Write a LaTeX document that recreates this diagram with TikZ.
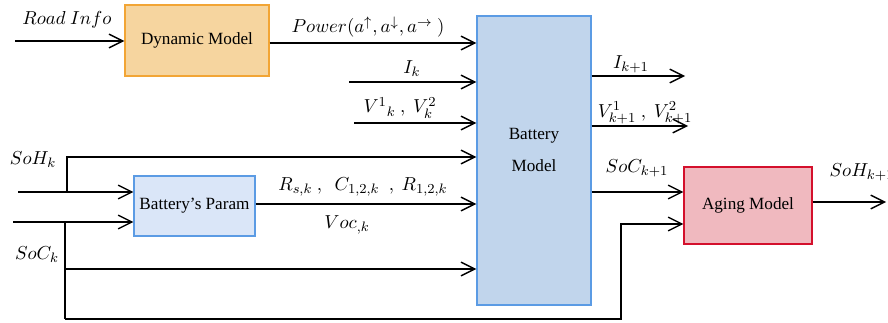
\documentclass[tikz,border=0pt]{standalone}
\usepackage{fontspec}
\setmainfont{Liberation Serif}
\usepackage{amsmath,amssymb}
\usepackage{xcolor}
\usetikzlibrary{positioning,arrows.meta}

\definecolor{dynfill}{HTML}{F6D59F}
\definecolor{dynline}{HTML}{F2A535}
\definecolor{batfill}{HTML}{C1D5EC}
\definecolor{batline}{HTML}{5B9BE4}
\definecolor{parfill}{HTML}{DAE6F8}
\definecolor{agefill}{HTML}{F0B9BF}
\definecolor{ageline}{HTML}{D4102C}

\begin{document}
\begin{tikzpicture}[x=0.583pt, y=-0.583pt,
    blk/.style={draw, thick, align=center, inner sep=0pt},
    dynbox/.style={blk, fill=dynfill, draw=dynline, minimum width=84pt, minimum height=41.4pt},
    batbox/.style={blk, fill=batfill, draw=batline, minimum width=66.5pt, minimum height=168.5pt},
    parbox/.style={blk, fill=parfill, draw=batline, minimum width=70.5pt, minimum height=35pt},
    agebox/.style={blk, fill=agefill, draw=ageline, minimum width=74.6pt, minimum height=44.9pt},
    arr/.style={-{Straight Barb[length=8pt, width=8pt]}, thick},
    ln/.style={thick},
    lbl/.style={inner sep=1pt, font=\fontsize{10.8}{13}\selectfont}
  ]
  \useasboundingbox (0,0) rectangle (888,323);

  % blocks
  \node[dynbox] (dyn) at (197,40.5)  {Dynamic Model};
  \node[batbox] (bat) at (534,160.5) {};
  \node[align=center] (batlbl) at (534,150) {Battery\\[7pt]Model};
  \node[parbox] (par) at (194.5,206) {Battery's Param};
  \node[agebox] (age) at (748,205.5) {Aging Model};

  % rows and free ends
  \coordinate (road)  at (15,41);
  \coordinate (rpow)  at (0,43);
  \coordinate (ik)    at (349,82);
  \coordinate (vk)    at (354,123);
  \coordinate (rsoh)  at (0,157);
  \coordinate (rpar)  at (0,204);
  \coordinate (rsocb) at (0,269);
  \coordinate (sohin) at (18,192);
  \coordinate (sohsp) at (67,192);
  \coordinate (socin) at (13,222);
  \coordinate (socsp) at (65,222);
  \coordinate (socbt) at (65,319);
  \coordinate (socup) at (621,319);
  \coordinate (rage)  at (0,224);
  \coordinate (iout)  at (685,76);
  \coordinate (vout)  at (688,126);
  \coordinate (rsoc)  at (0,192);
  \coordinate (hout)  at (886,202);

  % inputs
  \draw[arr] (road) -- (road -| dyn.west);
  \draw[arr] (dyn.east |- rpow) -- (bat.west |- rpow);
  \draw[arr] (ik) -- (ik -| bat.west);
  \draw[arr] (vk) -- (vk -| bat.west);
  \draw[arr] (sohin) -- (sohin -| par.west);
  \draw[arr] (sohsp) -- (sohsp |- rsoh) -- (bat.west |- rsoh);
  \draw[arr] (socin) -- (socin -| par.west);
  \draw[ln]  (socsp) -- (socbt);
  \draw[arr] (socsp |- rsocb) -- (bat.west |- rsocb);
  \draw[arr] (socbt) -- (socup) |- (age.west |- rage);
  \draw[arr] (par.east |- rpar) -- (bat.west |- rpar);

  % outputs
  \draw[arr] (iout -| bat.east) -- (iout);
  \draw[arr] (vout -| bat.east) -- (vout);
  \draw[arr] (bat.east |- rsoc) -- (age.west |- rsoc);
  \draw[arr] (age.east |- hout) -- (hout);

  % labels
  \node[lbl] (lroad) at (67,20)   {$Road\ Info$};
  \node[lbl] (lpow)  at (368,27)  {$Power(a^{\uparrow},a^{\downarrow},a^{\rightarrow}\ )$};
  \node[lbl] (lik)   at (412,69)  {$I_k$};
  \node[lbl] (lvk)   at (400,108) {$V^{1}{}_{k}\ ,\ V_k^2$};
  \node[lbl] (lsoh)  at (33,160)  {$SoH_k$};
  \node[lbl] (lsoc)  at (37,255)  {$SoC_k$};
  \node[lbl] (lrs)   at (363,187) {$R_{s,k}\ ,\ \ C_{1,2,k}\ \ ,\ R_{1,2,k}$};
  \node[lbl] (lvoc)  at (347,225) {$Voc_{,k}$};
  \node[lbl] (likn)  at (631,64)  {$I_{k+1}$};
  \node[lbl] (lvkn)  at (645,113) {$V^1_{k+1}\ ,\ V^2_{k+1}$};
  \node[lbl] (lsocn) at (637,168) {$SoC_{k+1}$};
  \node[lbl] (lsohn) at (862,172) {$SoH_{k+1}$};
\end{tikzpicture}
\end{document}
